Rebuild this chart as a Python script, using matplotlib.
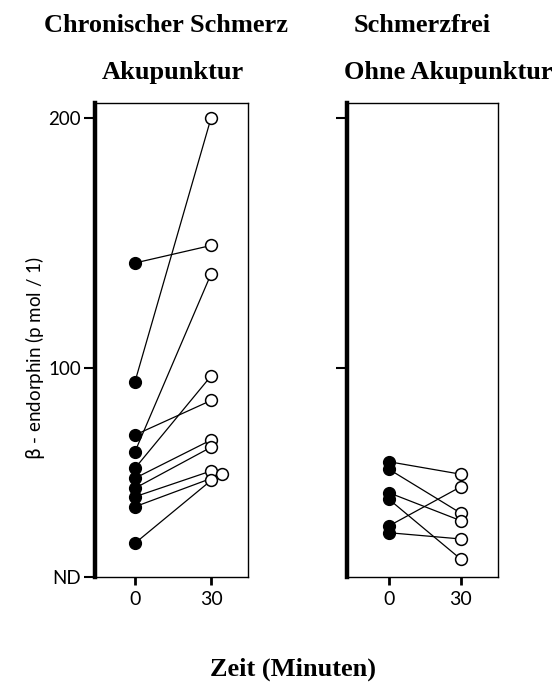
import matplotlib.pyplot as plt

# beta-endorphin (pmol/l) before (0 min) and after (30 min)
chronic_before = [142, 94.5, 73.2, 66.5, 59.9, 55.9, 51.9, 48.5, 44.5, 29.9]
chronic_after = [149, 200, 87, 137.6, 96.8, 71.2, 68.3, 58.8, 57.5, 55]
chronic_shift = [0, 0, 0, 0, 0, 0, 0, 0, 4.5, 0]   # sideways offset of overlapping circles

painfree_before = [62.5, 59.5, 50.1, 47.5, 36.8, 34.1]
painfree_after = [57.5, 41.9, 38.9, 23.5, 52.5, 31.6]

times = [0, 30]
nd_level = 16.4
ytick_vals = [nd_level, 100, 200]
ytick_labels = ['ND', '100', '200']

serif_bold = dict(family='Liberation Serif', weight='bold', fontsize=19)
sans = 'Lato'

fig = plt.figure(figsize=(5.55, 6.82), dpi=100)
ax1 = fig.add_axes([0.171, 0.154, 0.276, 0.695])
ax2 = fig.add_axes([0.625, 0.154, 0.272, 0.695])


def draw_pairs(ax, before, after, shift=None):
    for i in range(len(before)):
        dx = shift[i] if shift else 0
        ax.plot([times[0], times[1] + dx], [before[i], after[i]], color='black', lw=0.9, zorder=1)
    ax.plot([times[0]] * len(before), before, 'o', ms=8.5, mfc='black', mec='black', zorder=3)
    xs = [times[1] + (shift[i] if shift else 0) for i in range(len(after))]
    ax.plot(xs, after, 'o', ms=8.5, mfc='white', mec='black', mew=1.1, zorder=3)


draw_pairs(ax1, chronic_before, chronic_after, chronic_shift)
draw_pairs(ax2, painfree_before, painfree_after)

for ax in (ax1, ax2):
    ax.set_ylim(nd_level, 206)
    for s in ax.spines.values():
        s.set_linewidth(1.0)
    ax.spines['left'].set_linewidth(3.2)
    ax.set_xticks(times)
    ax.set_xticklabels([str(t) for t in times], fontsize=14, family=sans)
    ax.tick_params(axis='x', length=6, width=2, direction='out', pad=4)
    ax.tick_params(axis='y', length=8, width=1.5, direction='out', pad=2)

ax1.set_xlim(-15.8, 44.6)
ax2.set_xlim(-17.5, 45.4)

ax1.set_yticks(ytick_vals)
ax1.set_yticklabels(ytick_labels, fontsize=13.5, family=sans)
ax2.set_yticks([100, 200])
ax2.set_yticklabels([])

fig.text(0.063, 0.475, r'$\mathsf{\beta}$ - endorphin (p mol / 1)', rotation=90,
         ha='center', va='center', fontsize=13.5, family=sans)

fig.text(0.300, 0.963, 'Chronischer Schmerz', ha='center', va='center', **serif_bold)
fig.text(0.312, 0.894, 'Akupunktur', ha='center', va='center', **serif_bold)
fig.text(0.761, 0.963, 'Schmerzfrei', ha='center', va='center', **serif_bold)
fig.text(0.807, 0.894, 'Ohne Akupunktur', ha='center', va='center', **serif_bold)
fig.text(0.528, 0.018, 'Zeit (Minuten)', ha='center', va='center', **serif_bold)

fig.savefig('out.png', dpi=100)
